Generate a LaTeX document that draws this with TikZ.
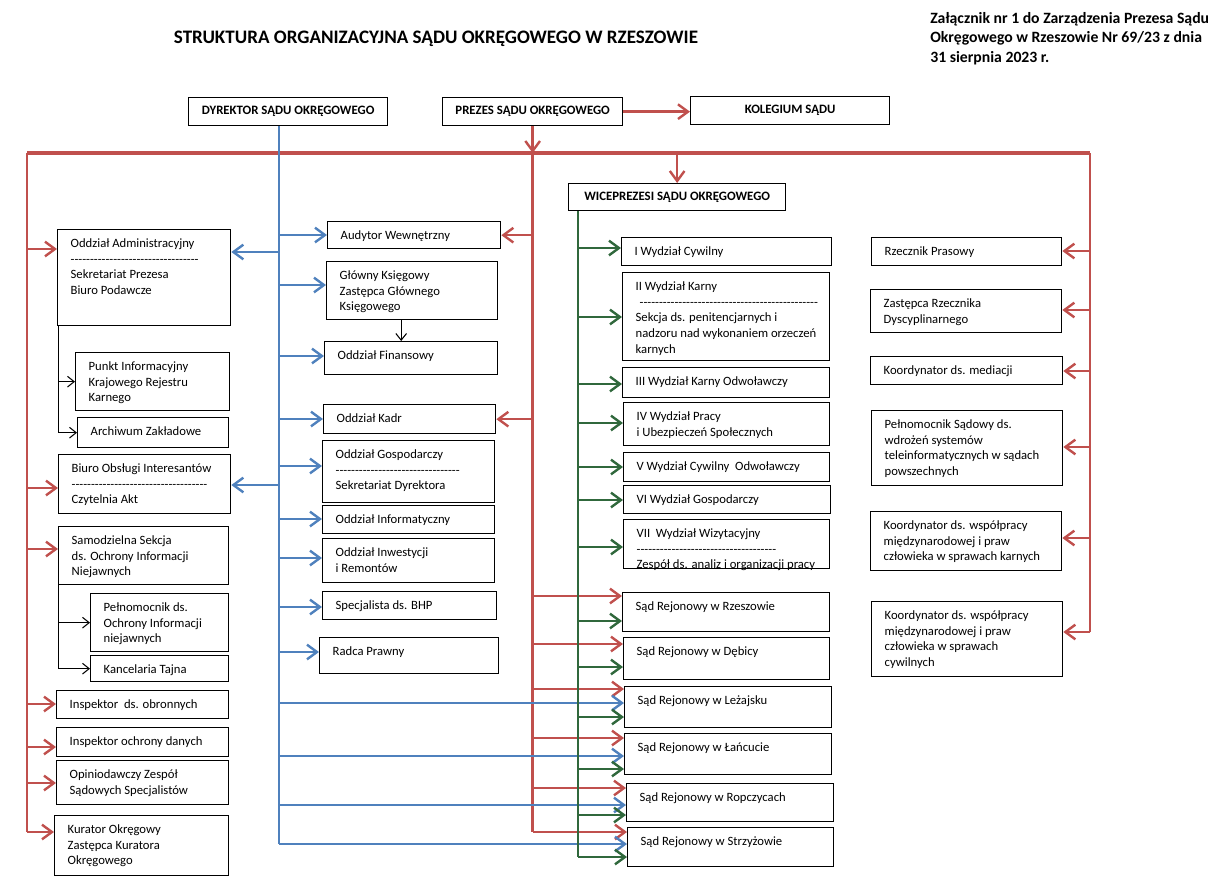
\documentclass[tikz,border=0pt]{standalone}
\usepackage{fontspec}
\setmainfont{Carlito}[Ligatures=TeXOff]
\usetikzlibrary{arrows.meta,calc}

\definecolor{linered}{RGB}{192,80,77}
\definecolor{lineblue}{RGB}{79,129,189}
\definecolor{linegreen}{RGB}{48,104,60}

% one pixel of the chart
\newlength{\pxu}
\setlength{\pxu}{0.75pt}
% box text: width, height, lines (top aligned)
\newcommand{\unittext}[3]{\parbox[c][#2\pxu][t]{#1\pxu}{\raggedright\leftskip=13\pxu\rule{0pt}{18\pxu}#3}}

\begin{document}
\begin{tikzpicture}[x=0.75pt,y=-0.75pt]
% Chart styles
\tikzset{
    unit/.style={draw, line width=1pt, inner sep=0pt, anchor=north west,
        font=\fontsize{9.5}{11.7}\selectfont},
    head/.style={draw, line width=1pt, inner sep=0pt, anchor=north west,
        align=center, font=\bfseries\fontsize{9.6}{11.5}\selectfont},
    redl/.style={draw=linered, line width=1.8pt},
    busl/.style={draw=linered, line width=2.5pt},
    bluel/.style={draw=lineblue, line width=1.8pt},
    greenl/.style={draw=linegreen, line width=1.8pt},
    blkl/.style={draw=black, line width=0.8pt},
    tohead/.style={-{Straight Barb[length=7.5pt,width=11pt]}},
    toheadb/.style={-{Straight Barb[length=5pt,width=8pt]}}
}
\useasboundingbox (0,0) rectangle (1229,894);
% Titles
\node[font=\bfseries\fontsize{14.3}{17}\selectfont] (title) at (436,39)
    {STRUKTURA ORGANIZACYJNA SĄDU OKRĘGOWEGO W RZESZOWIE};
\node[anchor=north west, align=left, inner sep=0pt,
    font=\bfseries\fontsize{11.8}{14.6}\selectfont] (annex) at (930,12)
    {Załącznik nr 1 do Zarządzenia Prezesa Sądu\\Okręgowego w Rzeszowie Nr 69/23 z dnia\\31 sierpnia 2023 r.};
% Heads
\node[head, minimum width=199\pxu, minimum height=28\pxu] (Dyr) at (188,97) {DYREKTOR SĄDU OKRĘGOWEGO};
\node[head, minimum width=180\pxu, minimum height=28\pxu] (Prezes) at (442,97) {PREZES SĄDU OKRĘGOWEGO};
\node[head, minimum width=199\pxu, minimum height=28\pxu] (Kol) at (690,96) {KOLEGIUM SĄDU};
\node[head, minimum width=217\pxu, minimum height=27\pxu] (Wice) at (568,183) {WICEPREZESI SĄDU OKRĘGOWEGO};
% Left column
\node[unit] (Admin) at (57,229) {\unittext{173}{96}{Oddział Administracyjny\\---------------------------------\\Sekretariat Prezesa\\Biuro Podawcze}};
\node[unit] (Punkt) at (75,352) {\unittext{154}{58}{Punkt Informacyjny\\Krajowego Rejestru\\Karnego}};
\node[unit] (Arch) at (77,417) {\unittext{151}{30}{Archiwum Zakładowe}};
\node[unit] (Biuro) at (58,454) {\unittext{172}{59}{Biuro Obsługi Interesantów\\-----------------------------------\\Czytelnia Akt}};
\node[unit] (Sam) at (58,526) {\unittext{170}{58}{Samodzielna Sekcja\\ds. Ochrony Informacji\\Niejawnych}};
\node[unit] (Peln) at (90,593) {\unittext{138}{58}{Pełnomocnik ds.\\Ochrony Informacji\\niejawnych}};
\node[unit] (Kanc) at (90,655) {\unittext{138}{26}{Kancelaria Tajna}};
\node[unit] (InspO) at (56,690) {\unittext{172}{28}{Inspektor\ \ ds. obronnych}};
\node[unit] (InspD) at (56,727) {\unittext{172}{29}{Inspektor ochrony danych}};
\node[unit] (Opin) at (56,760) {\unittext{172}{44}{Opiniodawczy Zespół\\Sądowych Specjalistów}};
\node[unit] (Kur) at (54,815) {\unittext{174}{60}{Kurator Okręgowy\\Zastępca Kuratora\\Okręgowego}};
% Middle column
\node[unit] (Aud) at (327,221) {\unittext{173}{27}{Audytor Wewnętrzny}};
\node[unit] (Glow) at (326,261) {\unittext{171}{58}{Główny Księgowy\\Zastępca Głównego\\Księgowego}};
\node[unit] (Fin) at (324,341) {\unittext{173}{33}{Oddział Finansowy}};
\node[unit] (Kadr) at (323,404) {\unittext{172}{29}{Oddział Kadr}};
\node[unit] (Gosp) at (322,440) {\unittext{172}{62}{Oddział Gospodarczy\\--------------------------------\\Sekretariat Dyrektora}};
\node[unit] (Inf) at (322,505) {\unittext{172}{28}{Oddział Informatyczny}};
\node[unit] (Inw) at (322,538) {\unittext{172}{44}{Oddział Inwestycji\\i Remontów}};
\node[unit] (BHP) at (322,591) {\unittext{174}{28}{Specjalista ds. BHP}};
\node[unit] (Radca) at (319,637) {\unittext{179}{36}{Radca Prawny}};
% Divisions and district courts
\node[unit] (WI) at (621,237) {\unittext{210}{28}{I Wydział Cywilny}};
\node[unit] (WII) at (622,272) {\unittext{207}{88}{II Wydział Karny\\\hspace*{4\pxu}----------------------------------------------\\Sekcja ds. penitencjarnych i\\nadzoru nad wykonaniem orzeczeń\\karnych}};
\node[unit] (WIII) at (622,367) {\unittext{207}{30}{III Wydział Karny Odwoławczy}};
\node[unit] (WIV) at (623,402) {\unittext{206}{43}{IV Wydział Pracy\\i Ubezpieczeń Społecznych}};
\node[unit] (WV) at (623,452) {\unittext{206}{29}{V Wydział Cywilny\ \ Odwoławczy}};
\node[unit] (WVI) at (623,485) {\unittext{207}{28}{VI Wydział Gospodarczy}};
\node[unit] (WVII) at (623,519) {\unittext{206}{49}{VII\ \ Wydział Wizytacyjny\\------------------------------------\\Zespół ds. analiz i organizacji pracy}};
\node[unit] (SRRz) at (622,592) {\unittext{207}{39}{Sąd Rejonowy w Rzeszowie}};
\node[unit] (SRDe) at (623,637) {\unittext{206}{42}{Sąd Rejonowy w Dębicy}};
\node[unit] (SRLe) at (624,686) {\unittext{207}{41}{Sąd Rejonowy w Leżajsku}};
\node[unit] (SRLa) at (624,733) {\unittext{207}{41}{Sąd Rejonowy w Łańcucie}};
\node[unit] (SRRo) at (626,783) {\unittext{207}{38}{Sąd Rejonowy w Ropczycach}};
\node[unit] (SRSt) at (627,827) {\unittext{206}{39}{Sąd Rejonowy w Strzyżowie}};
% Right column
\node[unit] (Rzp) at (871,237) {\unittext{190}{28}{Rzecznik Prasowy}};
\node[unit] (Zast) at (870,289) {\unittext{191}{43}{Zastępca Rzecznika\\Dyscyplinarnego}};
\node[unit] (Med) at (870,356) {\unittext{192}{28}{Koordynator ds. mediacji}};
\node[unit] (PelS) at (871,410) {\unittext{191}{75}{Pełnomocnik Sądowy ds.\\wdrożeń systemów\\teleinformatycznych w sądach\\powszechnych}};
\node[unit] (KoK) at (870,511) {\unittext{191}{59}{Koordynator ds. współpracy\\międzynarodowej i praw\\człowieka w sprawach karnych}};
\node[unit] (KoC) at (871,601) {\unittext{191}{75}{Koordynator ds. współpracy\\międzynarodowej i praw\\człowieka w sprawach\\cywilnych}};
% Prezes lines
\coordinate (busL) at (27,153);
\coordinate (busR) at (1090,153);
\draw[busl] (busL) -- (busR);
\draw[redl,tohead] (Prezes.east) -- (Prezes.east -| Kol.west);
\draw[redl,tohead] (Prezes.south) -- (Prezes.south |- busL);
\draw[redl,tohead] (Wice.north |- busL) -- (Wice.north);
\foreach \nm/\dy in {SRRz/4, SRDe/7, SRLe/3, SRLa/5, SRRo/5, SRSt/5}{
    \coordinate (r\nm) at ($(\nm.north west)+(0,\dy)$);
    \draw[redl,tohead] (Prezes.south |- r\nm) -- (r\nm);
}
\draw[redl] (Prezes.south |- busL) -- (Prezes.south |- rSRSt);
\draw[redl,tohead] (Prezes.south |- Aud.east) -- (Aud.east);
\draw[redl,tohead] (Prezes.south |- Kadr.east) -- (Kadr.east);
\foreach \nm/\dy in {Admin/20, Biuro/34, Sam/23, InspO/14, InspD/20, Opin/23, Kur/17}{
    \coordinate (l\nm) at ($(\nm.north west)+(0,\dy)$);
    \draw[redl,tohead] (busL |- l\nm) -- (l\nm);
}
\draw[redl] (busL) -- (busL |- lKur);
\foreach \nm/\dy in {Rzp/14, Zast/21, Med/15, PelS/37, KoK/27, KoC/31}{
    \coordinate (p\nm) at ($(\nm.north east)+(0,\dy)$);
    \draw[redl,tohead] (busR |- p\nm) -- (p\nm);
}
\draw[redl] (busR) -- (busR |- pKoC);
% Dyrektor lines
\coordinate (dyr) at ($(Dyr.south)+(-9,0)$);
\foreach \nm/\dy in {Aud/14, Glow/24, Fin/15, Kadr/15, Gosp/26, Inf/14, Inw/20, BHP/16, Radca/15}{
    \coordinate (b\nm) at ($(\nm.north west)+(0,\dy)$);
    \draw[bluel,tohead] (dyr |- b\nm) -- (b\nm);
}
\foreach \nm/\dy in {Admin/23, Biuro/31}{
    \coordinate (c\nm) at ($(\nm.north east)+(0,\dy)$);
    \draw[bluel,tohead] (dyr |- c\nm) -- (c\nm);
}
\foreach \nm/\dy in {SRLe/17, SRLa/23, SRRo/22, SRSt/17}{
    \coordinate (s\nm) at ($(\nm.north west)+(0,\dy)$);
    \draw[bluel,tohead] (dyr |- s\nm) -- (s\nm);
}
\draw[bluel] (dyr) -- (dyr |- sSRSt);
% Wiceprezesi lines
\coordinate (vice) at ($(Wice.south west)+(10,0)$);
\foreach \nm/\dy in {WI/11, WII/45, WIII/17, WIV/21, WV/15, WVI/15, WVII/28,
    SRRz/29, SRDe/30, SRLe/31, SRLa/36, SRRo/32, SRSt/30}{
    \coordinate (g\nm) at ($(\nm.north west)+(0,\dy)$);
    \draw[greenl,tohead] (vice |- g\nm) -- (g\nm);
}
\draw[greenl] (vice) -- (vice |- gSRSt);
% Sub units
\coordinate (adm) at ($(Admin.south west)+(1.5,0)$);
\draw[blkl,toheadb] (adm) |- (Arch.west);
\draw[blkl,toheadb] (adm |- Punkt.west) -- (Punkt.west);
\coordinate (sam) at ($(Sam.south west)+(0.5,0)$);
\draw[blkl,toheadb] (sam) |- (Kanc.west);
\draw[blkl,toheadb] (sam |- Peln.west) -- (Peln.west);
\coordinate (gk) at ($(Glow.south)+(-11,0)$);
\draw[blkl,toheadb] (gk) -- (gk |- Fin.north);
\end{tikzpicture}
\end{document}
